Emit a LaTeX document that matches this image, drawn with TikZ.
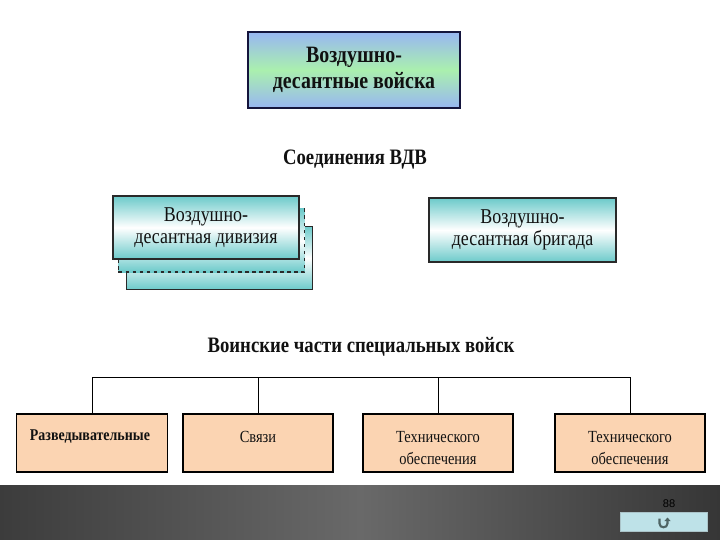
\documentclass[tikz,border=0pt]{standalone}
\usepackage{fontspec}
\setmainfont{Liberation Serif}
\newfontfamily\vdserif[FakeStretch=0.85]{Liberation Serif}
\newfontfamily\vdsans{Liberation Sans}
\usetikzlibrary{arrows.meta,calc,positioning}
\definecolor{vdInk}{HTML}{111111}
\definecolor{vdNavy}{HTML}{14143C}
\definecolor{vdSky}{HTML}{98B6F2}
\definecolor{vdMint}{HTML}{AAF0AE}
\definecolor{vdTeal}{HTML}{6CCACA}
\definecolor{vdPeach}{HTML}{FBD4B2}
\definecolor{vdBarDark}{HTML}{3C3C3C}
\definecolor{vdBarLight}{HTML}{696969}
\definecolor{vdTab}{HTML}{BEE2E8}
\definecolor{vdIcon}{HTML}{4E6464}

\begin{document}
\begin{tikzpicture}[x=0.03cm,y=-0.03cm,
  font=\vdserif\fontsize{18pt}{19pt}\selectfont,text=vdInk,
  vdtop/.style={draw=vdNavy,line width=1.8pt,top color=vdSky,bottom color=vdSky,
    middle color=vdMint,minimum width=6.36cm,minimum height=2.28cm,inner sep=0pt,
    align=center,font=\vdserif\bfseries\fontsize{20pt}{22pt}\selectfont},
  vdunit/.style={draw=vdInk!90,line width=1.1pt,top color=vdTeal,bottom color=vdTeal,
    middle color=white,minimum width=5.58cm,minimum height=1.89cm,inner sep=0pt,
    align=center},
  vdhead/.style={font=\vdserif\bfseries\fontsize{18.8pt}{22pt}\selectfont},
  vdpart/.style={draw=black,line width=1.4pt,fill=vdPeach,minimum width=4.5cm,
    minimum height=1.74cm,inner sep=0pt},
  vdpartlbl/.style={inner sep=0pt,align=center,yshift=-0.15cm,
    font=\vdserif\fontsize{14.5pt}{18pt}\selectfont}]
  \path[use as bounding box,fill=white] (0,0) rectangle (720,540);

  \node[vdtop] (vdv) at (354,70) {Воздушно-\\десантные войска};

  \node[vdhead] (soed) at (355,160) {Соединения ВДВ};
  % two sheets behind the division box
  \node[vdunit] (divC) at (219.5,258) {};
  \node[vdunit,dashed] (divB) at (211.5,240.5) {};
  \node[vdunit] (div) at (206,227.5) {Воздушно-\\десантная дивизия};
  \node[vdunit,minimum width=5.61cm,minimum height=1.92cm] (brig) at (522.5,230)
    {Воздушно-\\десантная бригада};

  \node[vdhead] (spec) at (361,347) {Воинские части специальных войск};

  \coordinate (busL) at (92,377);
  \coordinate (busR) at (630,377);
  \node[vdpart,minimum width=4.53cm,
    label={[anchor=north west,inner sep=0pt,xshift=0.42cm,yshift=-0.48cm,
      font=\vdserif\bfseries\fontsize{14pt}{17pt}\selectfont]north west:Разведывательные}]
    (part1) at (92,443) {};
  \node[vdpart,label={[vdpartlbl,yshift=0.32cm]center:Связи}] (part2) at (258,443) {};
  \node[vdpart,label={[vdpartlbl]center:{Технического\\обеспечения}}] (part3) at (438,443) {};
  \node[vdpart,label={[vdpartlbl]center:{Технического\\обеспечения}}] (part4) at (630,443) {};
  \draw[line width=0.8pt] (busL) -- (busR);
  \foreach \i in {1,2,3,4}
    {\draw[line width=0.8pt] (part\i.north) -- (part\i.north |- busL);}

  % slide footer
  \shade[left color=vdBarDark,right color=vdBarDark!90!black,middle color=vdBarLight]
    (0,485) rectangle (720,540);
  \node[font=\vdsans\fontsize{9.5pt}{11pt}\selectfont,text=black] (pnum) at (669,504) {88};
  \node[draw=vdTab!70!gray,fill=vdTab,minimum width=2.61cm,minimum height=0.57cm,
    inner sep=0pt] (back) at (663.5,521.5) {};
  \draw[vdIcon,line width=1.8pt,-{Triangle[length=3pt,width=5pt]}]
    ($(back.center)+(-4,-3)$) -- ++(0,5)
    .. controls +(0,5) and +(0,5) .. ++(8,0) -- ++(0,-6);
\end{tikzpicture}
\end{document}
